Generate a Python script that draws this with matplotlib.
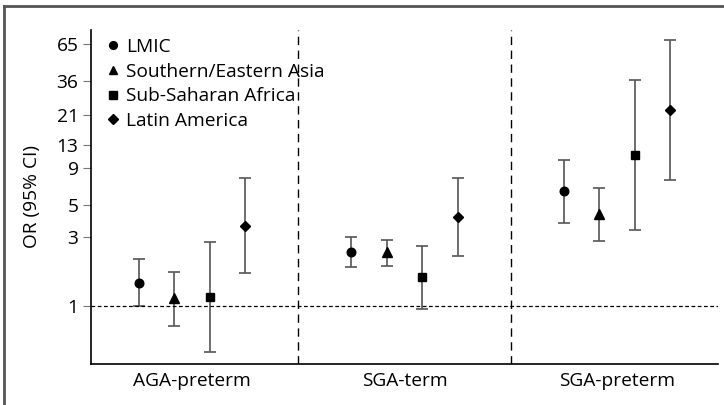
import matplotlib
matplotlib.use('Agg')
import matplotlib.pyplot as plt
from matplotlib.lines import Line2D
import numpy as np

plt.rcParams['font.family'] = ['Open Sans', 'DejaVu Sans']

groups = ['AGA-preterm', 'SGA-term', 'SGA-preterm']
regions = ['LMIC', 'Southern/Eastern Asia', 'Sub-Saharan Africa', 'Latin America']
markers = ['o', '^', 's', 'D']
msizes = [6.2, 6.5, 6.3, 5.5]

# odds ratios, rows = region, cols = group
or_val = [[1.45, 2.36, 6.24],
          [1.13, 2.37, 4.3],
          [1.15, 1.58, 11.0],
          [3.58, 4.12, 22.7]]
ci_low = [[1.0, 1.85, 3.77],
          [0.73, 1.90, 2.82],
          [0.48, 0.96, 3.36],
          [1.68, 2.22, 7.4]]
ci_high = [[2.11, 3.02, 10.3],
           [1.71, 2.87, 6.5],
           [2.78, 2.61, 36.7],
           [7.64, 7.68, 69.0]]
yticks = [1, 3, 5, 9, 13, 21, 36, 65]
offsets = [-0.25, -0.083, 0.083, 0.25]

fs = 13.8
fig = plt.figure(figsize=(7.24, 4.05), dpi=100)
ax = fig.add_axes([91/724, 1-364/405, (718-91)/724, (364-30)/405])

x = np.arange(len(groups))
for i, reg in enumerate(regions):
    y = np.array(or_val[i])
    lo = y - np.array(ci_low[i])
    hi = np.array(ci_high[i]) - y
    ax.errorbar(x + offsets[i], y, yerr=[lo, hi], fmt='none', ecolor='#555555',
                elinewidth=1.2, capsize=4, capthick=1.2)
    ax.plot(x + offsets[i], y, linestyle='none', marker=markers[i], color='black',
            markersize=msizes[i], label=reg)

ax.axhline(1, color='black', linestyle=(0, (3, 2)), linewidth=0.9)
for sep in [0.5, 1.5]:
    ax.axvline(sep, color='black', linestyle=(0, (6, 4)), linewidth=1)

ax.set_yscale('log')
ax.set_ylim(0.397, 81)
ax.set_xlim(-0.475, 2.475)
ax.set_yticks(yticks)
ax.set_yticklabels([str(t) for t in yticks])
ax.minorticks_off()
ax.set_xticks(x)
ax.set_xticklabels(groups)
ax.tick_params(axis='x', length=0, labelsize=fs, pad=6)
ax.tick_params(axis='y', length=6, color='#777777', labelsize=fs, pad=3)
ax.set_ylabel('OR (95% CI)', fontsize=fs, labelpad=11)
for s in ['top', 'right']:
    ax.spines[s].set_visible(False)
ax.spines['left'].set_linewidth(1.2)
ax.spines['bottom'].set_linewidth(1.2)

leg = ax.legend(loc='upper left', frameon=False, fontsize=fs, handletextpad=0.3,
                handlelength=0.8, labelspacing=0.35, borderaxespad=0, borderpad=0,
                markerscale=0.9, bbox_to_anchor=(14/627, 1 - 8/334))

# outer frame (top and left edges)
fig.add_artist(Line2D([4/724, 1], [1-5.5/405, 1-5.5/405], color='#555555', linewidth=2))
fig.add_artist(Line2D([4/724, 4/724], [0, 1-5.5/405], color='#555555', linewidth=2))

fig.savefig('out.png', dpi=100)
